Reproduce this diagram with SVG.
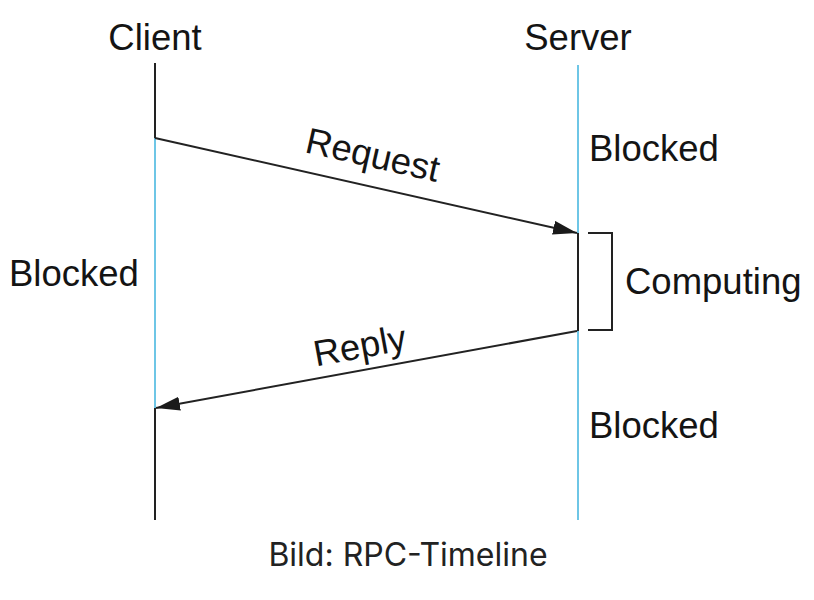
<svg xmlns="http://www.w3.org/2000/svg" width="814" height="600" viewBox="0 0 814 600">
<style>
.t{font-family:"Liberation Sans",Arial,sans-serif;font-size:36.5px;fill:#141414}
.blk{stroke:#222;stroke-width:2;fill:none}
.blu{stroke:#6ec6e6;stroke-width:2;fill:none}
.cap{font-family:Inter,"Noto Sans",sans-serif;font-size:32px;fill:#222}
</style>
<defs>
<marker id="ah" viewBox="0 0 24 14" refX="24" refY="7" markerWidth="24" markerHeight="14" markerUnits="userSpaceOnUse" orient="auto">
<path d="M0,0 L24,7 L0,14 Z" fill="#1a1a1a"/>
</marker>
</defs>
<rect width="814" height="600" fill="#fff"/>
<g id="client">
<line class="blk" x1="155" y1="63" x2="155" y2="138"/>
<line class="blu" x1="155" y1="138" x2="155" y2="408"/>
<line class="blk" x1="155" y1="408" x2="155" y2="520"/>
<text class="t" x="155" y="50" text-anchor="middle">Client</text>
<text class="t" x="9" y="286">Blocked</text>
</g>
<g id="server">
<line class="blu" x1="578" y1="65" x2="578" y2="233"/>
<line class="blk" x1="578" y1="233" x2="578" y2="331"/>
<line class="blu" x1="578" y1="331" x2="578" y2="520"/>
<text class="t" x="578" y="50" text-anchor="middle">Server</text>
<text class="t" x="589" y="161">Blocked</text>
<text class="t" x="589" y="438">Blocked</text>
</g>
<g id="computing">
<path class="blk" d="M588,233 H612 V330 H588"/>
<text class="t" x="625" y="294">Computing</text>
</g>
<g id="connectors">
<line class="blk" x1="155" y1="138" x2="577" y2="233" marker-end="url(#ah)"/>
<line class="blk" x1="577" y1="331" x2="156" y2="408" marker-end="url(#ah)"/>
<text class="t" x="370" y="167" text-anchor="middle" transform="rotate(12.7 370 167)">Request</text>
<text class="t" x="362" y="358" text-anchor="middle" transform="rotate(-10.4 362 358)">Reply</text>
</g>
<text class="cap" x="408" y="566" text-anchor="middle">Bild: RPC-Timeline</text>
</svg>
